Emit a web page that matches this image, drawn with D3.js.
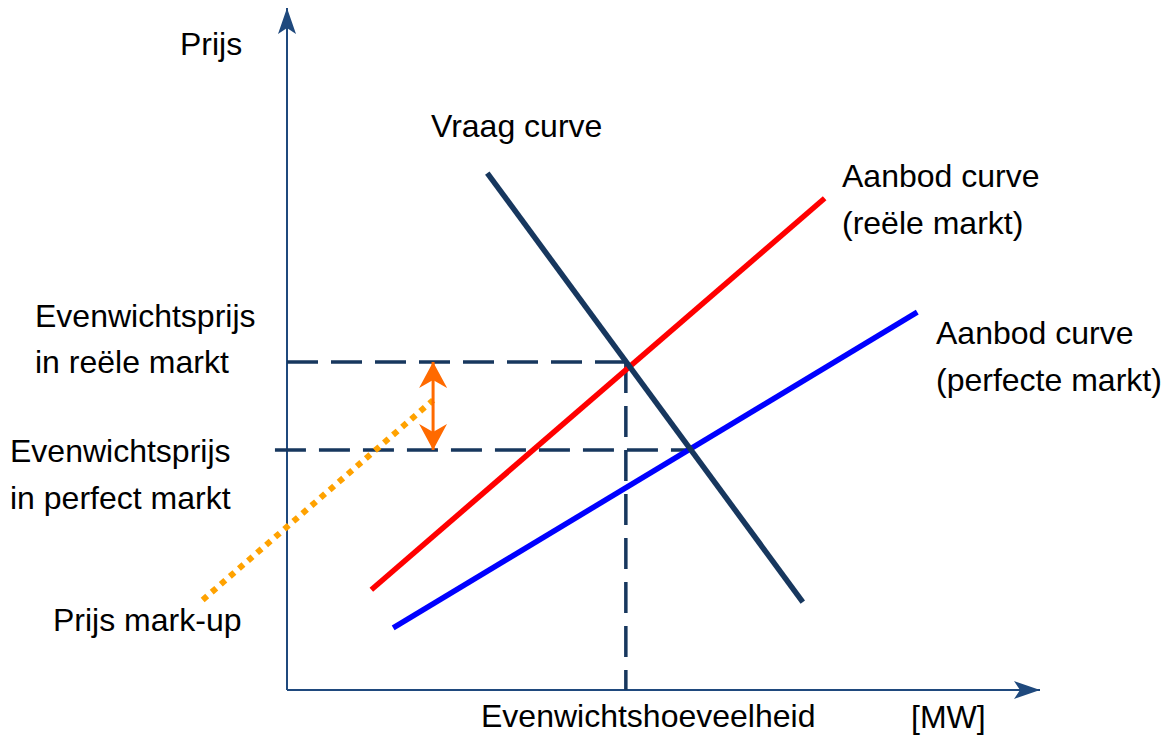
<!DOCTYPE html>
<html lang="nl">
<head>
  <meta charset="UTF-8">
  <title>Vraag en aanbod</title>
  <script src="https://d3js.org/d3.v7.min.js"></script>
  <style>
    body { margin: 0; background: #fff; }
    text {
      font-family: "Liberation Sans", Arial, sans-serif;
      font-size: 32px;
      fill: #000;
    }
  </style>
</head>
<body>
  <svg width="1171" height="736"></svg>

  <script>
    const width = 1171, height = 736;

    // Curves in abstract units (quantity 0..100, price 0..100)
    const demandCurve = [[26.6, 75.8], [68.5, 12.9]];
    const supplyReal = [[11.2, 14.7], [71.4, 72.1]];
    const supplyPerfect = [[14.1, 9.1], [83.7, 55.4]];
    const markUpLine = [[-11.2, 13.2], [19.4, 42.5]];

    // Equilibrium points
    const eqReal = [45.0, 48.1];
    const eqPerfect = [53.5, 35.2];
    const markUpX = 19.4;

    // Texts
    const labels = [
      { text: "Prijs", x: 180, y: 55 },
      { text: "Vraag curve", x: 431, y: 137 },
      { text: "Aanbod curve", x: 842, y: 187 },
      { text: "(reële markt)", x: 842, y: 234 },
      { text: "Aanbod curve", x: 936, y: 344 },
      { text: "(perfecte markt)", x: 936, y: 391 },
      { text: "Evenwichtsprijs", x: 35, y: 327 },
      { text: "in reële markt", x: 35, y: 373 },
      { text: "Evenwichtsprijs", x: 10, y: 462 },
      { text: "in perfect markt", x: 10, y: 509 },
      { text: "Prijs mark-up", x: 53, y: 631 },
      { text: "Evenwichtshoeveelheid", x: 481, y: 727 },
      { text: "[MW]", x: 911, y: 728 }
    ];

    const svg = d3.select("svg");

    const x = d3.scaleLinear().domain([0, 100]).range([287, 1040]);
    const y = d3.scaleLinear().domain([0, 100]).range([690, 8]);

    const line = d3.line().x(d => x(d[0])).y(d => y(d[1]));

    // arrow heads
    const defs = svg.append("defs");
    defs.append("marker")
      .attr("id", "axisHead")
      .attr("viewBox", "0 0 26 18")
      .attr("refX", 26).attr("refY", 9)
      .attr("markerWidth", 26).attr("markerHeight", 18)
      .attr("markerUnits", "userSpaceOnUse")
      .attr("orient", "auto")
      .append("path")
      .attr("d", "M0,0 L26,9 L0,18 L6,9 Z")
      .attr("fill", "#1f497d");

    defs.append("marker")
      .attr("id", "orangeHead")
      .attr("viewBox", "0 0 26 28")
      .attr("refX", 26).attr("refY", 14)
      .attr("markerWidth", 26).attr("markerHeight", 28)
      .attr("markerUnits", "userSpaceOnUse")
      .attr("orient", "auto-start-reverse")
      .append("path")
      .attr("d", "M0,0 L26,14 L0,28 L8,14 Z")
      .attr("fill", "#ff6a00");

    // axes
    svg.append("line")
      .attr("x1", x(0)).attr("y1", y(0))
      .attr("x2", x(0)).attr("y2", y(100))
      .attr("stroke", "#1f497d").attr("stroke-width", 2)
      .attr("marker-end", "url(#axisHead)");

    svg.append("line")
      .attr("x1", x(0)).attr("y1", y(0))
      .attr("x2", x(100)).attr("y2", y(0))
      .attr("stroke", "#1f497d").attr("stroke-width", 2)
      .attr("marker-end", "url(#axisHead)");

    // dashed equilibrium guides
    const dash = "31,13";
    svg.append("line")
      .attr("x1", x(0)).attr("y1", y(eqReal[1]))
      .attr("x2", x(eqReal[0])).attr("y2", y(eqReal[1]))
      .attr("stroke", "#17375e").attr("stroke-width", 3.5)
      .attr("stroke-dasharray", dash);

    svg.append("line")
      .attr("x1", x(-1.6)).attr("y1", y(eqPerfect[1]))
      .attr("x2", x(eqPerfect[0])).attr("y2", y(eqPerfect[1]))
      .attr("stroke", "#17375e").attr("stroke-width", 3.5)
      .attr("stroke-dasharray", dash);

    svg.append("line")
      .attr("x1", x(eqReal[0])).attr("y1", y(eqReal[1]))
      .attr("x2", x(eqReal[0])).attr("y2", y(0))
      .attr("stroke", "#17375e").attr("stroke-width", 3.5)
      .attr("stroke-dasharray", dash);

    // mark-up dotted line
    svg.append("path")
      .attr("d", line(markUpLine))
      .attr("fill", "none")
      .attr("stroke", "#ffa200").attr("stroke-width", 6)
      .attr("stroke-dasharray", "6,6");

    // supply and demand curves
    svg.append("path")
      .attr("d", line(supplyPerfect))
      .attr("fill", "none").attr("stroke", "#0000ff").attr("stroke-width", 5.5);

    svg.append("path")
      .attr("d", line(supplyReal))
      .attr("fill", "none").attr("stroke", "#ff0000").attr("stroke-width", 5.5);

    svg.append("path")
      .attr("d", line(demandCurve))
      .attr("fill", "none").attr("stroke", "#17375e").attr("stroke-width", 5.5);

    // mark-up double arrow
    svg.append("line")
      .attr("x1", x(markUpX)).attr("y1", y(eqReal[1]))
      .attr("x2", x(markUpX)).attr("y2", y(eqPerfect[1]))
      .attr("stroke", "#ff6a00").attr("stroke-width", 3)
      .attr("marker-start", "url(#orangeHead)")
      .attr("marker-end", "url(#orangeHead)");

    // texts
    svg.append("g")
      .selectAll("text")
      .data(labels)
      .join("text")
      .attr("x", d => d.x)
      .attr("y", d => d.y)
      .text(d => d.text);
  </script>
</body>
</html>
